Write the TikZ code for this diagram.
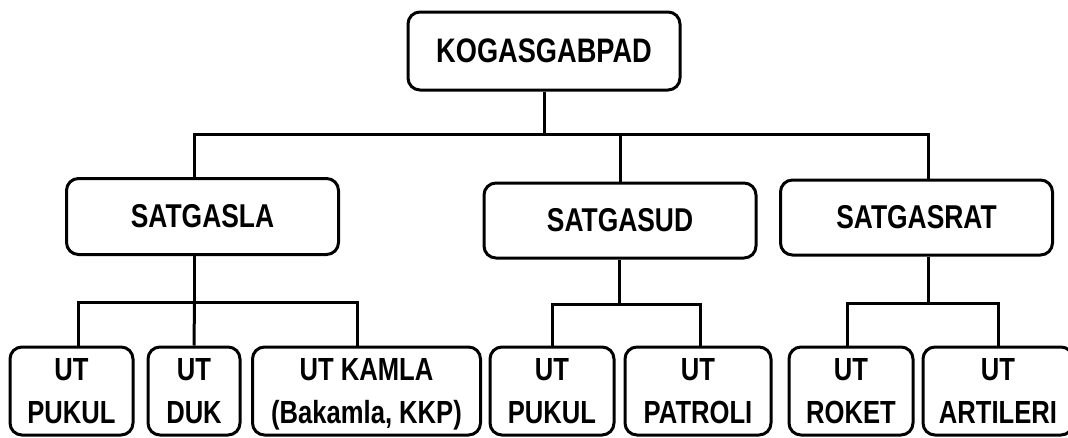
\documentclass[tikz,border=0pt]{standalone}
\usepackage{fontspec}
\setmainfont{Liberation Sans}[FakeStretch=0.8]
\usepackage{tikz}

\newcommand{\twoline}[1]{\raisebox{-2pt}[\height][\depth]{\begin{tabular}{@{}c@{}}#1\end{tabular}}}

\begin{document}
\begin{tikzpicture}[x=1pt,y=-1pt,line width=3pt,
        box/.style={draw,rounded corners=12pt,inner sep=0pt,align=center,minimum width=272pt,minimum height=76pt},
        head/.style={box,minimum height=78pt,font=\bfseries\fontsize{34}{40}\selectfont},
        task/.style={box,font=\bfseries\fontsize{33}{40}\selectfont},
        unit/.style={box,minimum height=88pt,font=\bfseries\fontsize{32}{43}\selectfont}]
            \useasboundingbox (0,0) rectangle (1068,437);

            \node   [head]                          (kogas)    at (544,51)    {KOGASGABPAD};
            \node   [task]                          (satla)    at (202.5,216.5) {SATGASLA};
            \node   [task,minimum height=75pt]      (satud)    at (620,220.5) {SATGASUD};
            \node   [task,minimum height=75pt]      (satrat)   at (916.5,217.5) {SATGASRAT};

            \node   [unit,minimum width=123pt]      (pukula)   at (71.5,391)  {\twoline{UT\\PUKUL}};
            \node   [unit,minimum width=92pt]       (duk)      at (194,391)   {\twoline{UT\\DUK}};
            \node   [unit,minimum width=228pt]      (kamla)    at (366.5,391) {\twoline{UT KAMLA\\(Bakamla, KKP)}};
            \node   [unit,minimum width=124pt]      (pukulb)   at (552,391)   {\twoline{UT\\PUKUL}};
            \node   [unit,minimum width=146pt]      (patroli)  at (698,391)   {\twoline{UT\\PATROLI}};
            \node   [unit,minimum width=124pt]      (roket)    at (851,391)   {\twoline{UT\\ROKET}};
            \node   [unit,minimum width=150pt]      (artileri) at (998,391)   {\twoline{UT\\ARTILERI}};

            % top level
            \draw   (kogas.south) -- ++(0,43) coordinate (kbus);
            \draw   (kbus) -| ([xshift=-8pt]satla.north);
            \draw   (kbus) -| (satud.north);
            \draw   (kbus) -| ([xshift=12pt]satrat.north);

            % satgasla
            \draw   ([xshift=-8pt]satla.south) -- ++(0,46) coordinate (labus);
            \draw   (labus) -| ([xshift=6.5pt]pukula.north);
            \draw   (labus) -- (duk.north);
            \draw   (labus) -| ([xshift=-9.5pt]kamla.north);

            % satgasud
            \draw   ([xshift=-1pt]satud.south) -- ++(0,45) coordinate (udbus);
            \draw   (udbus) -| (pukulb.north);
            \draw   (udbus) -| ([xshift=2pt]patroli.north);

            % satgasrat
            \draw   ([xshift=12pt]satrat.south) -- ++(0,47) coordinate (ratbus);
            \draw   (ratbus) -| ([xshift=-4pt]roket.north);
            \draw   (ratbus) -| (artileri.north);
        \end{tikzpicture}
\end{document}
